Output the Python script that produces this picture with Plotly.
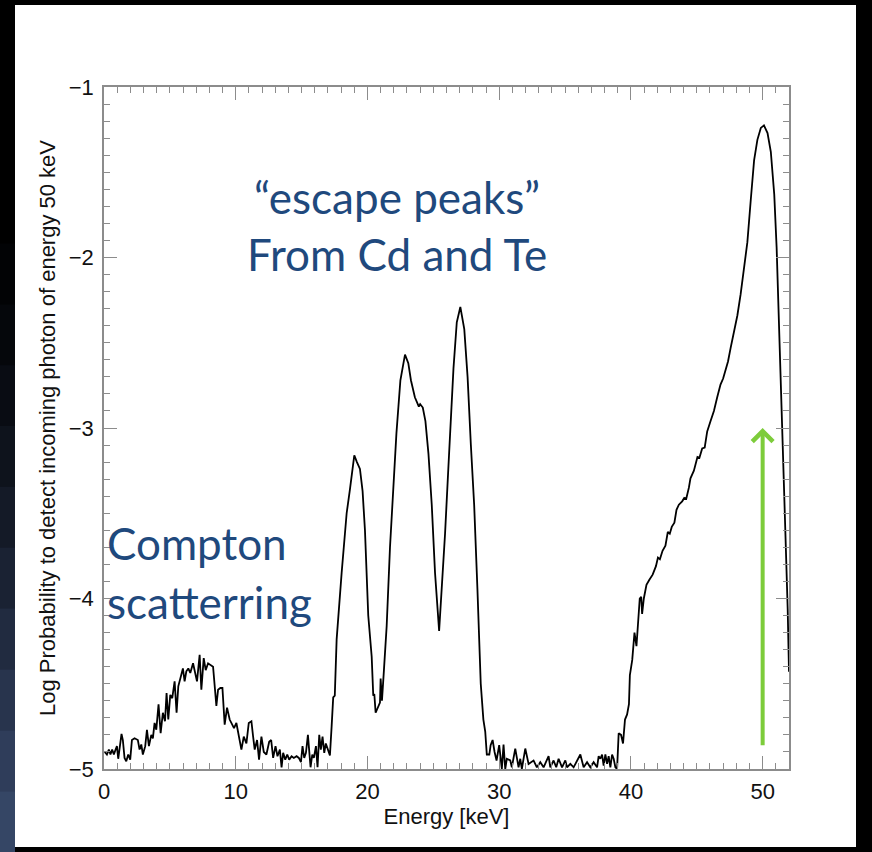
import plotly.graph_objects as go

energy_kev = [
    0.05, 0.22, 0.37, 0.49, 0.62, 0.75, 0.88, 0.98, 1.08, 1.18, 1.33, 1.43, 1.56, 1.69, 1.84, 1.99,
    2.12, 2.32, 2.57, 2.70, 2.83, 2.95, 3.13, 3.26, 3.41, 3.59, 3.71, 3.84, 3.97, 4.14, 4.30, 4.47,
    4.63, 4.75, 4.88, 5.03, 5.18, 5.36, 5.51, 5.64, 5.79, 5.99, 6.12, 6.25, 6.40, 6.55, 6.76, 6.91,
    7.06, 7.26, 7.39, 7.57, 7.72, 7.90, 8.10, 8.28, 8.53, 8.66, 8.83, 8.99, 9.16, 9.34, 9.54, 9.72,
    9.87, 10.05, 10.23, 10.43, 10.61, 10.81, 10.99, 11.19, 11.32, 11.44, 11.62, 11.77, 11.95, 12.13,
    12.33, 12.54, 12.69, 12.84, 13.02, 13.17, 13.35, 13.48, 13.60, 13.76, 13.91, 14.06, 14.24, 14.41,
    14.62, 14.79, 14.95, 15.07, 15.20, 15.33, 15.48, 15.58, 15.68, 15.81, 15.93, 16.09, 16.21, 16.34,
    16.46, 16.59, 16.72, 16.84, 17.00, 17.15, 17.28, 17.40, 17.52, 17.66, 18.04, 18.42, 18.67, 19.00,
    19.20, 19.43, 19.63, 19.81, 20.06, 20.32, 20.44, 20.52, 20.62, 20.80, 20.95, 21.00, 21.10, 21.25,
    21.46, 21.71, 21.96, 22.20, 22.50, 22.85, 23.10, 23.30, 23.60, 23.90, 24.00, 24.20, 24.40, 24.63,
    24.88, 25.13, 25.44, 25.64, 25.89, 26.15, 26.53, 26.78, 27.05, 27.35, 27.60, 27.85, 28.10, 28.35,
    28.60, 28.80, 28.94, 29.06, 29.25, 29.35, 29.50, 29.65, 29.80, 30.00, 30.20, 30.33, 30.46, 30.58,
    30.84, 30.96, 31.22, 31.47, 31.60, 31.72, 31.98, 32.23, 32.61, 32.86, 33.12, 33.37, 33.75, 33.88,
    34.13, 34.33, 34.51, 34.77, 35.02, 35.15, 35.40, 35.65, 35.90, 36.16, 36.41, 36.67, 36.92, 37.17,
    37.43, 37.55, 37.68, 37.81, 37.93, 38.06, 38.19, 38.31, 38.44, 38.57, 38.69, 38.82, 38.95, 39.07,
    39.25, 39.40, 39.55, 39.71, 39.85, 39.92, 40.10, 40.27, 40.42, 40.55, 40.67, 40.78, 40.85, 40.98,
    41.18, 41.40, 41.65, 41.90, 42.05, 42.20, 42.40, 42.62, 42.80, 42.95, 43.10, 43.30, 43.46, 43.64,
    43.89, 44.05, 44.20, 44.40, 44.52, 44.78, 45.05, 45.20, 45.41, 45.60, 45.79, 46.04, 46.30, 46.55,
    46.80, 47.00, 47.20, 47.37, 47.57, 47.83, 48.08, 48.33, 48.59, 48.84, 49.10, 49.35, 49.60, 49.86,
    50.10, 50.37, 50.62, 50.88, 51.06, 51.21, 51.39, 51.57, 51.72, 51.90, 52.00,
]

log_probability = [
    -4.900, -4.915, -4.886, -4.915, -4.886, -4.915, -4.886, -4.866, -4.940, -4.886, -4.794, -4.830, -4.935, -4.955, -4.915, -4.945,
    -4.830, -4.820, -4.830, -4.886, -4.856, -4.915, -4.866, -4.770, -4.866, -4.800, -4.820, -4.730, -4.770, -4.620, -4.790, -4.670,
    -4.720, -4.555, -4.710, -4.565, -4.585, -4.486, -4.670, -4.515, -4.466, -4.410, -4.486, -4.427, -4.410, -4.437, -4.380, -4.427,
    -4.486, -4.330, -4.535, -4.350, -4.420, -4.380, -4.390, -4.400, -4.630, -4.535, -4.525, -4.525, -4.740, -4.640, -4.710, -4.740,
    -4.760, -4.730, -4.810, -4.886, -4.810, -4.850, -4.730, -4.720, -4.810, -4.886, -4.830, -4.945, -4.810, -4.900,
    -4.915, -4.840, -4.830, -4.935, -4.866, -4.925, -4.886, -4.990, -4.905, -4.945, -4.915, -4.945, -4.925, -4.935,
    -4.925, -4.935, -4.960, -4.866, -4.935, -4.905, -4.800, -4.925, -4.990, -4.915, -4.935, -4.866, -4.990, -4.800,
    -4.886, -4.810, -4.905, -4.850, -4.886, -4.920, -4.750, -4.580, -4.570, -4.240, -3.850, -3.500, -3.360, -3.160,
    -3.200, -3.240, -3.370, -3.600, -4.100, -4.340, -4.570, -4.560, -4.670, -4.640, -4.610, -4.470, -4.600, -4.420,
    -4.160, -3.700, -3.350, -3.030, -2.720, -2.570, -2.620, -2.720, -2.820, -2.875, -2.860, -2.880, -2.960, -3.150,
    -3.450, -3.850, -4.190, -3.950, -3.620, -3.220, -2.650, -2.380, -2.290, -2.420, -2.700, -3.100, -3.450, -3.950,
    -4.500, -4.710, -4.780, -4.915, -4.915, -4.860, -4.830, -4.900, -4.950, -4.860, -5.000, -4.857, -5.000, -4.940,
    -4.950, -4.990, -4.880, -4.990, -4.940, -5.000, -4.880, -4.970, -4.950, -4.990, -4.960, -4.990, -4.925, -4.990,
    -4.950, -4.990, -4.940, -4.990, -4.950, -4.990, -4.970, -4.990, -4.950, -4.915, -4.990, -4.960, -4.990, -4.960,
    -4.990, -4.925, -4.940, -4.915, -4.980, -4.915, -4.970, -4.925, -4.990, -4.915, -4.940, -4.990, -5.000, -4.790,
    -4.800, -4.850, -4.710, -4.680, -4.620, -4.450, -4.360, -4.200, -4.280, -4.120, -4.000, -3.990, -4.090, -4.000,
    -3.920, -3.890, -3.860, -3.810, -3.760, -3.770, -3.720, -3.690, -3.610, -3.620, -3.580, -3.555, -3.480, -3.450,
    -3.430, -3.410, -3.415, -3.350, -3.295, -3.250, -3.170, -3.175, -3.120, -3.115, -3.020, -2.960, -2.900, -2.820,
    -2.745, -2.710, -2.660, -2.610, -2.530, -2.440, -2.340, -2.215, -2.060, -1.910, -1.660, -1.430, -1.310, -1.240,
    -1.225, -1.270, -1.380, -1.630, -1.940, -2.290, -2.720, -3.225, -3.600, -4.060, -4.430,
]

x_tick_values = [0, 10, 20, 30, 40, 50]
y_tick_values = [-5, -4, -3, -2, -1]

x_title = "Energy [keV]"
y_title = "Log Probability to detect incoming photon of energy 50 keV"
note_escape = ["\u201cescape peaks\u201d", "From Cd and Te"]
note_compton = ["Compton", "scatterring"]

# strip of the slide background on the left (top to bottom)
strip_colors = ["#000000", "#000000", "#000000", "#000000", "#020305", "#05070b", "#090c13",
                "#0e131c", "#141a27", "#1a2233", "#212b40", "#28344d", "#2f3d5a", "#354665"]

W, H = 872, 852
ML, MR, MT, MB = 104, 83, 87, 83
PW, PH = W - ML - MR, H - MT - MB


def px_x(px):
    return (px - ML) / PW


def px_y(py):
    return (H - MB - py) / PH


fig = go.Figure()
fig.add_trace(go.Scatter(
    x=energy_kev, y=log_probability, mode="lines",
    line=dict(color="#000000", width=1.8), showlegend=False, hoverinfo="skip",
))

shapes = [dict(type="rect", xref="paper", yref="paper", layer="below",
               x0=px_x(15), x1=px_x(856), y0=px_y(847), y1=px_y(5),
               fillcolor="#ffffff", line=dict(width=0))]
n = len(strip_colors)
band = H / n
for i, c in enumerate(strip_colors):
    shapes.append(dict(type="rect", xref="paper", yref="paper", layer="below",
                       x0=px_x(0), x1=px_x(15), y0=px_y((i + 1) * band + 0.5), y1=px_y(i * band),
                       fillcolor=c, line=dict(width=0)))

text_blue = "#1f497d"
big_font = dict(family="Lato", size=44, color=text_blue)
annotations = [
    dict(x=22.24, y=-1.645, xref="x", yref="y", text=note_escape[0], showarrow=False,
         xanchor="center", yanchor="middle", font=big_font),
    dict(x=22.24, y=-1.98, xref="x", yref="y", text=note_escape[1], showarrow=False,
         xanchor="center", yanchor="middle", font=big_font),
    dict(x=0.27, y=-3.675, xref="x", yref="y", text=note_compton[0], showarrow=False,
         xanchor="left", yanchor="middle", xshift=-3, font=big_font),
    dict(x=0.27, y=-4.02, xref="x", yref="y", text=note_compton[1], showarrow=False,
         xanchor="left", yanchor="middle", xshift=-3, font=big_font),
    dict(x=50, y=-3.0, ax=50, ay=-4.87, xref="x", yref="y", axref="x", ayref="y",
         text="", showarrow=True, arrowhead=4, arrowsize=1.0, arrowwidth=4,
         arrowcolor="#7dcc3b", standoff=0),
]

axis_font = dict(family="Liberation Sans", size=22, color="#111111")
common = dict(showline=True, linecolor="#8c8c8c", linewidth=1.5, mirror="allticks",
              ticks="inside", tickcolor="#8c8c8c", tickwidth=1.2, ticklen=13,
              showgrid=False, zeroline=False, tickfont=axis_font)

fig.update_layout(
    width=W, height=H,
    margin=dict(l=ML, r=MR, t=MT, b=MB, autoexpand=False),
    paper_bgcolor="#000000", plot_bgcolor="#ffffff",
    shapes=shapes, annotations=annotations,
    xaxis=dict(range=[0, 52], tickvals=x_tick_values, ticktext=[str(v) for v in x_tick_values],
               minor=dict(dtick=1, ticks="inside", ticklen=6, tickcolor="#8c8c8c", tickwidth=1.2),
               ticklabelstandoff=2,
               title=dict(text=x_title, font=axis_font, standoff=4), **common),
    yaxis=dict(range=[-5, -1], tickvals=y_tick_values,
               ticktext=["\u2212" + str(abs(v)) for v in y_tick_values],
               minor=dict(dtick=0.1, ticks="inside", ticklen=6, tickcolor="#8c8c8c", tickwidth=1.2),
               ticklabelstandoff=4,
               title=dict(text=y_title, font=axis_font, standoff=7), **common),
)

fig.write_html("out.html")
